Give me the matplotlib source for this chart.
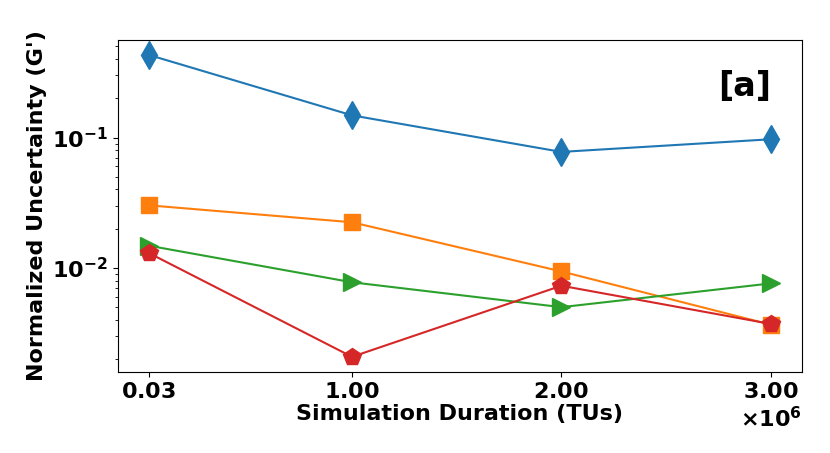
import numpy as np
import matplotlib
matplotlib.use("Agg")
import matplotlib.pyplot as plt
from matplotlib.ticker import ScalarFormatter

# simulation durations (TUs)
durations = [0.03e6, 1.0e6, 2.0e6, 3.0e6]

# normalized uncertainty for each series
unc_blue = [0.43, 0.148, 0.0776, 0.097]
unc_orange = [0.0302, 0.0224, 0.0094, 0.00367]
unc_green = [0.0148, 0.00776, 0.0050, 0.0076]
unc_red = [0.0130, 0.00208, 0.0073, 0.00372]

plt.rcParams['font.family'] = ['DejaVu Sans']
plt.rcParams['font.weight'] = 'bold'

fig = plt.figure(figsize=(8.3, 4.53), dpi=100)
ax = fig.add_axes([0.142, 0.179, 0.824, 0.733])

ax.plot(durations, unc_blue, marker='d', markersize=14, color='tab:blue')
ax.plot(durations, unc_orange, marker='s', markersize=12, color='tab:orange')
ax.plot(durations, unc_green, marker='>', markersize=13, color='tab:green')
ax.plot(durations, unc_red, marker='p', markersize=13, color='tab:red')

ax.set_yscale('log')
ax.set_xticks(durations)
fmt = ScalarFormatter(useMathText=True)
ax.xaxis.set_major_formatter(fmt)
ax.xaxis.get_offset_text().set_fontsize(16)
ax.xaxis.get_offset_text().set_fontweight('bold')

ax.tick_params(axis='both', which='major', labelsize=16)
for lbl in ax.get_xticklabels() + ax.get_yticklabels():
    lbl.set_fontweight('bold')

ax.set_xlabel('Simulation Duration (TUs)', fontsize=16, fontweight='bold', labelpad=2)
ax.set_ylabel("Normalized Uncertainty (G')", fontsize=16, fontweight='bold')

ax.text(0.917, 0.86, '[a]', transform=ax.transAxes, fontsize=24,
        fontweight='bold', ha='center', va='center')

fig.savefig('out.png', dpi=100)
